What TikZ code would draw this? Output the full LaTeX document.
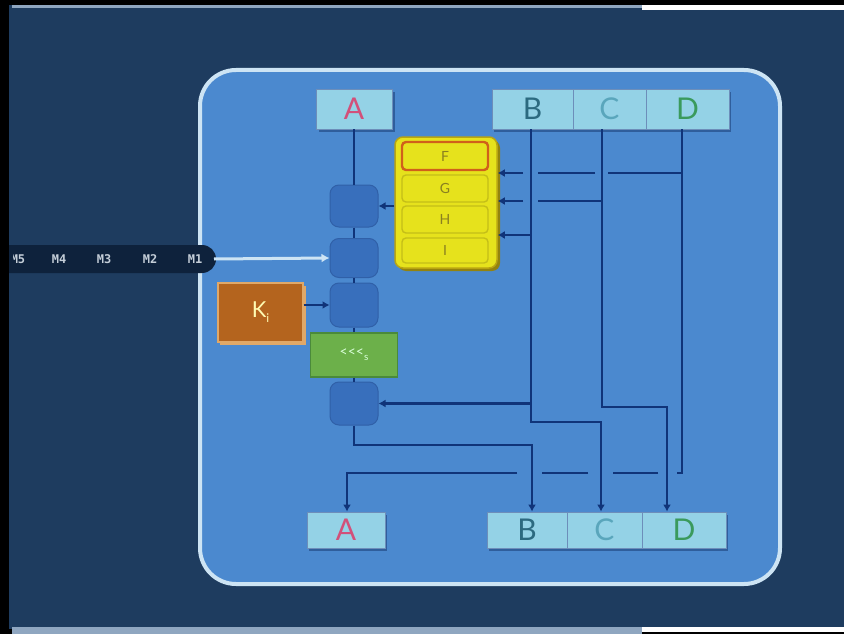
\documentclass[tikz,border=0pt]{standalone}
\usepackage{fontspec}
\setmainfont{Lato}
\newfontfamily\mfont{DejaVu Sans Mono}
\usetikzlibrary{arrows.meta}
\definecolor{navy}{HTML}{1E3C5F}
\definecolor{stripgray}{HTML}{8FA6C0}
\definecolor{panelfill}{HTML}{4B89CF}
\definecolor{panelborder}{HTML}{CDE4F4}
\definecolor{lncol}{HTML}{103479}
\definecolor{cyanfill}{HTML}{94D2E6}
\definecolor{cyanshadow}{HTML}{2F5E9C}
\definecolor{adderfill}{HTML}{386FBC}
\definecolor{addershadow}{HTML}{3060A8}
\definecolor{yelfill}{HTML}{E6E21C}
\definecolor{yeldark}{HTML}{B8A412}
\definecolor{rowedge}{HTML}{C4BE18}
\definecolor{forange}{HTML}{D0601A}
\definecolor{kfill}{HTML}{B4641E}
\definecolor{kborder}{HTML}{E0A868}
\definecolor{gfill}{HTML}{6CB04A}
\definecolor{gborder}{HTML}{4A8A3A}
\definecolor{capsule}{HTML}{0E223C}
\definecolor{mtext}{HTML}{C4CED8}
\definecolor{cA}{HTML}{D2507A}
\definecolor{cB}{HTML}{2C6A80}
\definecolor{cC}{HTML}{5AA6BC}
\definecolor{cD}{HTML}{3A9A5C}
\definecolor{rowtext}{HTML}{8A8020}
\begin{document}
\begin{tikzpicture}[x=1pt,y=-1pt,
  cell/.style={draw=cyanshadow!70, line width=0.8pt, fill=cyanfill, inner sep=0pt, minimum height=40pt, font=\fontsize{30}{30}\selectfont},
  bcell/.style={cell, minimum height=36pt},
  adder/.style={fill=adderfill, draw=addershadow, line width=1pt, rounded corners=9pt, minimum width=48pt, inner sep=0pt},
  row/.style={fill=yelfill, draw=rowedge, line width=1.4pt, rounded corners=4pt, minimum width=86pt, inner sep=0pt, text=rowtext, font=\fontsize{14}{14}\selectfont},
  ln/.style={draw=lncol, line width=2.6pt},
  arr/.style={-{Latex[length=7pt,width=8pt]}},
  ]
\useasboundingbox (0,0) rectangle (844,634);
% frame
\fill[black] (0,0) rectangle (844,634);
\fill[navy] (9,5) rectangle (844,629);
\fill[stripgray] (12,5) rectangle (642,8);
\fill[white] (642,5) rectangle (844,10);
\fill[stripgray] (12,627) rectangle (642,634);
\fill[white] (642,627) rectangle (844,632);
% panel
\draw[fill=panelfill, draw=panelborder, line width=4pt, rounded corners=36pt] (200,70) rectangle (780,584);
% message capsule
\fill[capsule, rounded corners=14pt] (-20,245) rectangle (216,273);
\begin{scope}
\clip (13,240) rectangle (230,280);
\foreach \t/\x in {M5/18,M4/59,M3/104,M2/150,M1/195}
  \node[text=mtext, font=\mfont\bfseries\fontsize{12}{12}\selectfont] (msg\t) at (\x,259) {\t};
\end{scope}
\fill[black] (0,0) rectangle (9,634);
\coordinate (m1) at (214,259);
% top registers
\fill[cyanshadow] (319,92) rectangle (395,132);
\node[cell, minimum width=76pt, text=cA] (tA) at (354,109) {A};
\fill[cyanshadow] (494,92) rectangle (731,132);
\node[cell, minimum width=81pt, text=cB] (tB) at (532.5,109) {B};
\node[cell, minimum width=73pt, text=cC] (tC) at (609.5,109) {C};
\node[cell, minimum width=83pt, text=cD] (tD) at (687.5,109) {D};
% bottom registers
\fill[cyanshadow] (309,515) rectangle (387,551);
\node[bcell, minimum width=78pt, text=cA] (bA) at (346,530) {A};
\fill[cyanshadow] (489,515) rectangle (728,551);
\node[bcell, minimum width=80pt, text=cB] (bB) at (527,530) {B};
\node[bcell, minimum width=75pt, text=cC] (bC) at (604.5,530) {C};
\node[bcell, minimum width=84pt, text=cD] (bD) at (684,530) {D};
% function box
\fill[yeldark!80!black, rounded corners=8pt] (398,140) rectangle (500,271);
\node[fill=yelfill, draw=yeldark, line width=1.5pt, rounded corners=8pt, minimum width=102pt, minimum height=131pt, inner sep=0pt] (yel) at (446,202.5) {};
\node[row, draw=forange, line width=2.4pt, minimum height=28pt] (F) at (445,156) {F};
\node[row, minimum height=27pt] (G) at (445,188.5) {G};
\node[row, minimum height=27pt] (H) at (445,219.5) {H};
\node[row, minimum height=25pt] (I) at (445,250.5) {I};
% adders and blocks
\node[adder, minimum height=42pt] (b1) at (354,206) {};
\node[adder, minimum height=39pt] (b2) at (354,258) {};
\node[adder, minimum height=44pt] (b3) at (354,305) {};
\node[adder, minimum height=43pt] (b4) at (354,403.5) {};
\node[fill=gfill, draw=gborder, line width=1.4pt, minimum width=87pt, minimum height=44pt, inner sep=0pt, text=green!15!white] (grn) at (354,355)
  {\fontsize{14}{14}\selectfont <{}<{}<\raisebox{-4pt}{\fontsize{10}{10}\selectfont s}};
\fill[kborder] (220,286) rectangle (306,345);
\node[fill=kfill, draw=kborder, line width=1.2pt, minimum width=85pt, minimum height=59pt, inner sep=0pt, text=yellow!30!white] (K) at (260.5,312.5)
  {\fontsize{22}{22}\selectfont K\raisebox{-5pt}{\fontsize{12}{12}\selectfont i}};
% chain on the left
\draw[ln] (tA.south) -- (b1.north);
\draw[ln] (b1.south) -- (b2.north);
\draw[ln] (b2.south) -- (b3.north);
\draw[ln] (b3.south) -- (grn.north);
\draw[ln] (grn.south) -- (b4.north);
\draw[ln, arr] (yel.west |- b1.east) -- (b1.east);
\draw[ln, arr] (K.east |- b3.west) -- (b3.west);
\draw[draw=panelborder, line width=3pt, -{Latex[length=8pt,width=9pt]}] (m1) -- (b2.west);
% B line
\draw[ln, arr] (531,0 |- tB.south) -- (531,422) -- (601,422) -- (601,0 |- bC.north);
\draw[ln, arr] (531,235) -- (yel.east |- 0,235);
\draw[ln, arr] (531,403.5) -- (b4.east);
% new B from last adder
\draw[ln, arr] (b4.south) -- (354,445) -- (532,445) -- (532,0 |- bB.north);
% C line
\draw[ln, arr] (602,0 |- tC.south) -- (602,407) -- (667,407) -- (667,0 |- bD.north);
\draw[ln] (602,201) -- (538,201);
\draw[ln, arr] (523,201) -- (yel.east |- 0,201);
% D line
\draw[ln] (682,0 |- tD.south) -- (682,473) -- (677,473);
\draw[ln] (658,473) -- (613,473);
\draw[ln] (588,473) -- (542,473);
\draw[ln, arr] (517,473) -- (347,473) -- (347,0 |- bA.north);
\draw[ln] (682,173) -- (608,173);
\draw[ln] (595,173) -- (538,173);
\draw[ln, arr] (523,173) -- (yel.east |- 0,173);
\end{tikzpicture}
\end{document}
